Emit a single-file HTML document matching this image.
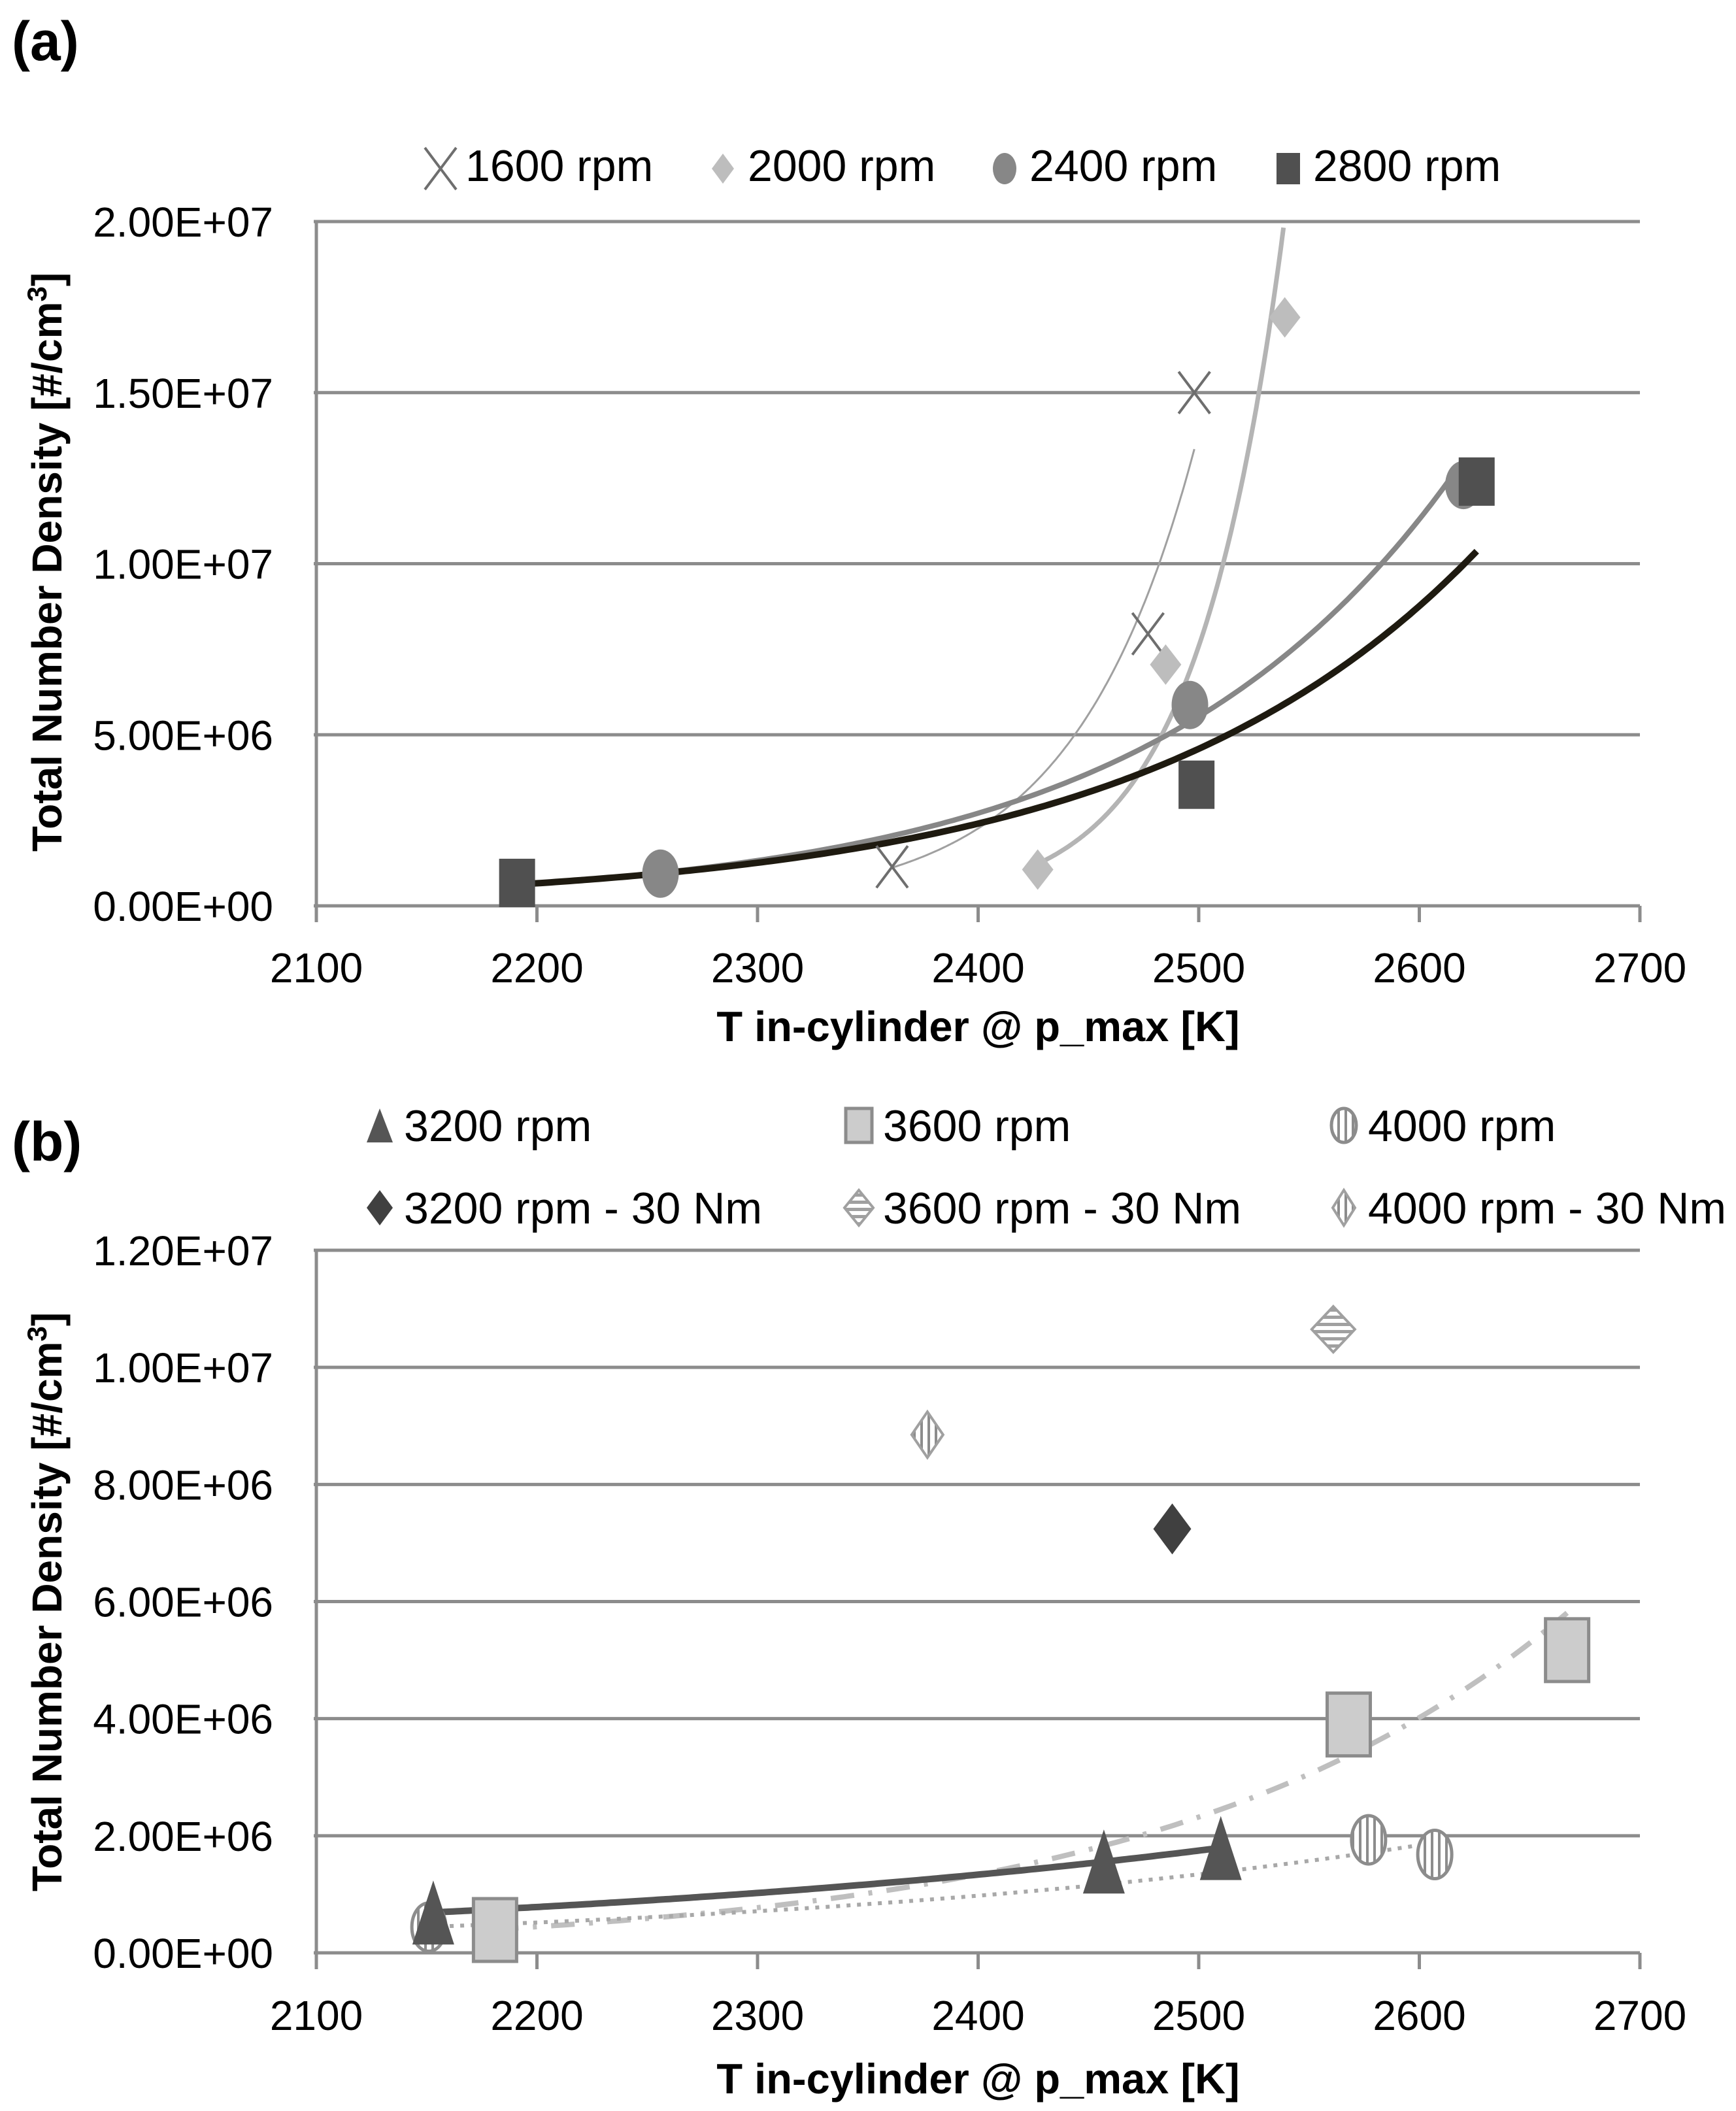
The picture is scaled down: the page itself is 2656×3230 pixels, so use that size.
<!DOCTYPE html>
<html><head><meta charset="utf-8"><style>
html,body{margin:0;padding:0;background:#fff}
svg{display:block}
text{font-family:"Liberation Sans",sans-serif;fill:#000}
</style></head><body>
<svg id="fig" width="2656" height="3230" viewBox="0 0 2656 3230" xmlns="http://www.w3.org/2000/svg">
<g id="pa"></g>
<g id="pb"></g>
</svg>
<script>
// ---- Panel (a) data ----
const aSeriesNames = ["1600 rpm","2000 rpm","2400 rpm","2800 rpm"];
const aX1600 = [2361, 2477, 2498];
const aY1600 = [1.14e6, 7.95e6, 1.50e7];
const aX2000 = [2427, 2485, 2539];
const aY2000 = [1.06e6, 7.05e6, 1.72e7];
const aX2400 = [2256, 2496, 2620];
const aY2400 = [0.94e6, 5.87e6, 1.23e7];
const aX2800 = [2191, 2499, 2626];
const aY2800 = [0.67e6, 3.54e6, 1.24e7];
const aXTicks = [2100,2200,2300,2400,2500,2600,2700];
const aYTicks = [0, 5e6, 1e7, 1.5e7, 2e7];
const aYTickLabels = ["0.00E+00","5.00E+06","1.00E+07","1.50E+07","2.00E+07"];
// ---- Panel (b) data ----
const bSeriesNames = ["3200 rpm","3600 rpm","4000 rpm","3200 rpm - 30 Nm","3600 rpm - 30 Nm","4000 rpm - 30 Nm"];
const bX3200 = [2153, 2457, 2510];
const bY3200 = [0.69e6, 1.56e6, 1.79e6];
const bX3600 = [2181, 2568, 2667];
const bY3600 = [0.39e6, 3.9e6, 5.17e6];
const bX4000 = [2151, 2577, 2607];
const bY4000 = [0.44e6, 1.93e6, 1.68e6];
const bX30 = [2488, 2561, 2377];
const bY30 = [7.24e6, 10.65e6, 8.85e6];
const bXTicks = [2100,2200,2300,2400,2500,2600,2700];
const bYTicks = [0, 2e6, 4e6, 6e6, 8e6, 1e7, 1.2e7];
const bYTickLabels = ["0.00E+00","2.00E+06","4.00E+06","6.00E+06","8.00E+06","1.00E+07","1.20E+07"];

const NS="http://www.w3.org/2000/svg";
function mk(parent, tag, attrs){const e=document.createElementNS(NS,tag);for(const k in attrs)e.setAttribute(k,attrs[k]);parent.appendChild(e);return e;}
function txt(parent, s, attrs){const e=mk(parent,'text',attrs);e.textContent=s;return e;}

const L=484,R=2509;
function scales(top,bottom,ymax){
  return {x:v=>L+(v-2100)/600*(R-L), y:v=>bottom-v/ymax*(bottom-top)};
}
function expFit(xs,ys){
  const n=xs.length;let sx=0,sy=0,sxx=0,sxy=0;
  for(let i=0;i<n;i++){const ly=Math.log(ys[i]);sx+=xs[i];sy+=ly;sxx+=xs[i]*xs[i];sxy+=xs[i]*ly;}
  const b=(n*sxy-sx*sy)/(n*sxx-sx*sx);const a=(sy-b*sx)/n;
  return x=>Math.exp(a+b*x);
}
function trend(g,xs,ys,sc,ymax,style,name){
  const f=expFit(xs,ys);const x0=Math.min(...xs),x1=Math.max(...xs);
  let d="";
  for(let i=0;i<=200;i++){const x=x0+(x1-x0)*i/200;const v=f(x);if(v>ymax){break;}d+=(d?"L":"M")+sc.x(x).toFixed(1)+","+sc.y(v).toFixed(1);}
  const p=mk(g,'path',Object.assign({d:d,fill:"none","stroke-linecap":"butt"},style));
  
  
}
function axes(g,top,bottom,ymax,yTicks,yLabels,xTicks,tickBase,titleBase,yTitleCy){
  const sc=scales(top,bottom,ymax);
  yTicks.forEach((v,i)=>{
    const ln=mk(g,'line',{x1:L-4,x2:R,y1:sc.y(v),y2:sc.y(v),stroke:"#8c8c8c","stroke-width":5});
    
    
    const t=txt(g,yLabels[i],{x:418,y:sc.y(v)+23,"text-anchor":"end","font-size":64});
    
    
  });
  const ax=mk(g,'line',{x1:L,x2:L,y1:top,y2:bottom,stroke:"#8c8c8c","stroke-width":5});
  
  
  xTicks.forEach(v=>{
    const tk=mk(g,'line',{x1:sc.x(v),x2:sc.x(v),y1:bottom,y2:bottom+25,stroke:"#8c8c8c","stroke-width":5});
    
    
    const t=txt(g,String(v),{x:sc.x(v),y:tickBase,"text-anchor":"middle","font-size":64});
    
    
  });
  const xt=txt(g,"T in-cylinder @ p_max [K]",{x:(L+R)/2,y:titleBase,"text-anchor":"middle","font-size":65,"font-weight":"bold"});
  
  
  const yt=mk(g,'text',{x:0,y:0,"text-anchor":"middle","font-size":64,"font-weight":"bold",transform:`translate(94,${yTitleCy}) rotate(-90)`});
  yt.innerHTML='Total Number Density [#/cm<tspan baseline-shift="super" font-size="42">3</tspan>]';
  
  
  return sc;
}
function mX(g,x,y,s){const p=mk(g,'path',{d:`M${x-24},${y-32}L${x+24},${y+32}M${x+24},${y-32}L${x-24},${y+32}`,stroke:"#6e6e6e","stroke-width":4,fill:"none"});return p;}
function mDiamond(g,x,y,w,h,fill,stroke){return mk(g,'path',{d:`M${x},${y-h/2}L${x+w/2},${y}L${x},${y+h/2}L${x-w/2},${y}Z`,fill:fill,stroke:stroke||"none","stroke-width":4});}
function mEll(g,x,y,w,h,fill,stroke){return mk(g,'ellipse',{cx:x,cy:y,rx:w/2,ry:h/2,fill:fill,stroke:stroke||"none","stroke-width":5});}
function mRect(g,x,y,w,h,fill,stroke){return mk(g,'rect',{x:x-w/2,y:y-h/2,width:w,height:h,fill:fill,stroke:stroke||"none","stroke-width":5});}
function mTri(g,x,y,w,h,fill){return mk(g,'path',{d:`M${x},${y-h/2}L${x+w/2},${y+h/2}L${x-w/2},${y+h/2}Z`,fill:fill});}

const defs=mk(document.getElementById('fig'),'defs',{});
defs.innerHTML=`<pattern id="vstripe" width="11" height="10" patternUnits="userSpaceOnUse"><rect width="11" height="10" fill="#fff"/><rect width="4" height="10" fill="#8c8c8c"/></pattern>
<pattern id="hstripe" width="10" height="11" patternUnits="userSpaceOnUse"><rect width="10" height="11" fill="#fff"/><rect width="10" height="5" fill="#a0a0a0"/></pattern>`;

// ===== Panel A =====
(function(){
  const g=document.getElementById('pa');
  const pl=txt(g,"(a)",{x:18,y:92,"font-size":84,"font-weight":"bold"});
  
  
  const ymax=2e7;
  const sc=axes(g,339,1386,ymax,aYTicks,aYTickLabels,aXTicks,1503,1593,860);
  trend(g,aX1600,aY1600,sc,ymax,{stroke:"#a0a0a0","stroke-width":3},"trendline-1600");
  trend(g,aX2000,aY2000,sc,ymax,{stroke:"#b4b4b4","stroke-width":7},"trendline-2000");
  trend(g,aX2400,aY2400,sc,ymax,{stroke:"#878787","stroke-width":8},"trendline-2400");
  trend(g,aX2800,aY2800,sc,ymax,{stroke:"#1e1a10","stroke-width":10},"trendline-2800");
  aX1600.forEach((v,i)=>{const m=mX(g,sc.x(v),sc.y(aY1600[i]));});
  aX2000.forEach((v,i)=>{const m=mDiamond(g,sc.x(v),sc.y(aY2000[i]),48,62,"#bdbdbd");});
  aX2400.forEach((v,i)=>{const m=mEll(g,sc.x(v),sc.y(aY2400[i]),56,74,"#878787");});
  aX2800.forEach((v,i)=>{const m=mRect(g,sc.x(v),sc.y(aY2800[i]),55,74,"#505050");});
  const lx=[674,1106,1537,1971];
  const ly=258;
  const lg=mk(g,'g',{});
  
  
  mX(lg,lx[0],ly);
  mDiamond(lg,lx[1],ly,34,46,"#bdbdbd");
  mEll(lg,lx[2],ly,36,48,"#878787");
  mRect(lg,lx[3],ly,36,48,"#505050");
  aSeriesNames.forEach((s,i)=>{const t=txt(lg,s,{x:lx[i]+38,y:277,"font-size":68});});
})();

// ===== Panel B =====
(function(){
  const g=document.getElementById('pb');
  const pl=txt(g,"(b)",{x:18,y:1776,"font-size":84,"font-weight":"bold"});
  
  
  const ymax=1.2e7;
  const sc=axes(g,1913,2988,ymax,bYTicks,bYTickLabels,bXTicks,3106,3203,2451);
  trend(g,bX3600,bY3600,sc,ymax,{stroke:"#bfbfbf","stroke-width":8,"stroke-dasharray":"36 22 6 22"},"trendline-3600");
  trend(g,bX4000,bY4000,sc,ymax,{stroke:"#a8a8a8","stroke-width":6,"stroke-dasharray":"6 10"},"trendline-4000");
  trend(g,bX3200,bY3200,sc,ymax,{stroke:"#555555","stroke-width":10},"trendline-3200");
  bX3600.forEach((v,i)=>{const m=mRect(g,sc.x(v),sc.y(bY3600[i]),66,96,"#cccccc","#8c8c8c");});
  bX4000.forEach((v,i)=>{const m=mEll(g,sc.x(v),sc.y(bY4000[i]),52,74,"url(#vstripe)","#8c8c8c");});
  bX3200.forEach((v,i)=>{const m=mTri(g,sc.x(v),sc.y(bY3200[i]),64,98,"#555555");});
  const m1=mDiamond(g,sc.x(bX30[0]),sc.y(bY30[0]),58,78,"#404040");
  
  
  const m2=mDiamond(g,sc.x(bX30[1]),sc.y(bY30[1]),66,70,"url(#hstripe)","#a0a0a0");
  
  
  const m3=mDiamond(g,sc.x(bX30[2]),sc.y(bY30[2]),48,70,"url(#vstripe)","#a0a0a0");
  
  
  const lg=mk(g,'g',{});
  
  
  const cx=[581,1314,2056], cy=[1722,1848];
  mTri(lg,cx[0],cy[0],40,52,"#555555");
  mRect(lg,cx[1],cy[0],40,52,"#cccccc","#8c8c8c");
  mEll(lg,cx[2],cy[0],38,52,"url(#vstripe)","#8c8c8c");
  mDiamond(lg,cx[0],cy[1],40,54,"#404040");
  mDiamond(lg,cx[1],cy[1],44,54,"url(#hstripe)","#a0a0a0");
  mDiamond(lg,cx[2],cy[1],34,54,"url(#vstripe)","#a0a0a0");
  bSeriesNames.forEach((s,i)=>{const c=i%3,r=Math.floor(i/3);const t=txt(lg,s,{x:cx[c]+37,y:cy[r]+24,"font-size":68});});
})();
</script>
</body></html>
